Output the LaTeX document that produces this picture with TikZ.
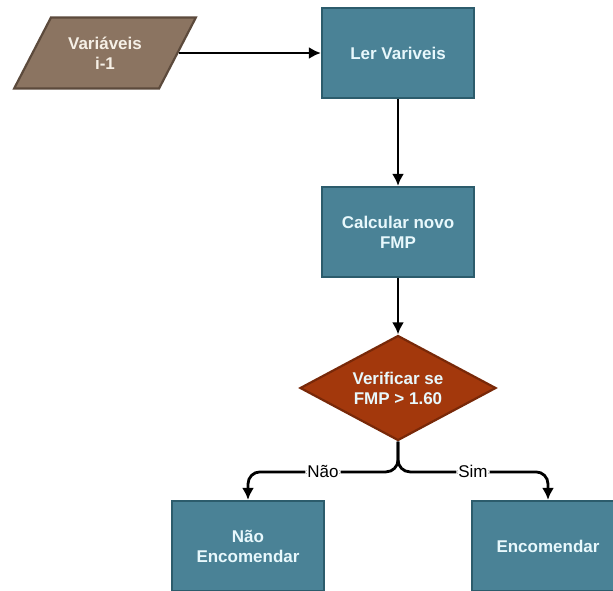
\documentclass[tikz,border=0pt]{standalone}
\usepackage{fontspec}
\setmainfont{Liberation Sans}
\usetikzlibrary{shapes.geometric,arrows.meta}
\definecolor{boxfill}{RGB}{74,130,150}
\definecolor{boxline}{RGB}{44,92,108}
\definecolor{boxtext}{RGB}{232,248,252}
\definecolor{iofill}{RGB}{139,116,97}
\definecolor{ioline}{RGB}{92,74,60}
\definecolor{iotext}{RGB}{246,240,230}
\definecolor{decfill}{RGB}{163,56,12}
\definecolor{decline}{RGB}{120,40,8}
\tikzset{
  procbox/.style={rectangle, draw=boxline, fill=boxfill, line width=2.2pt,
    minimum width=152pt, minimum height=90pt, text=boxtext, align=center,
    font=\bfseries\fontsize{17}{20}\selectfont},
  iobox/.style={trapezium, trapezium left angle=55, trapezium right angle=125,
    trapezium stretches=true, draw=ioline, fill=iofill, line width=2.2pt,
    minimum width=182pt, minimum height=71pt, text=iotext, align=center,
    font=\bfseries\fontsize{17}{20}\selectfont},
  decbox/.style={diamond, aspect=2, inner sep=1pt, draw=decline, fill=decfill,
    line width=2.2pt, minimum width=196pt, minimum height=105pt, text=boxtext,
    align=center, font=\bfseries\fontsize{17}{20}\selectfont},
  conn/.style={line width=2.8pt, draw=black, -{Latex[length=12pt,width=12pt]}},
  branchlabel/.style={fill=white, inner sep=2pt, font=\fontsize{17}{20}\selectfont}
}
\begin{document}
\begin{tikzpicture}[x=1pt, y=-1pt]
  \useasboundingbox (0,0) rectangle (613,590);
  \begin{scope}
    \clip (0,0) rectangle (613,590);
    \node[iobox] (var) at (105,53) {Variáveis\\i-1};
    \node[procbox] (ler) at (398,53) {Ler Variveis};
    \node[procbox] (calc) at (398,232) {Calcular novo\\FMP};
    \node[decbox] (dec) at (398,388) {Verificar se\\FMP > 1.60};
    \node[procbox] (nao) at (248,546) {Não\\Encomendar};
    \node[procbox] (enc) at (548,546) {Encomendar};

    \draw[conn] (var.east) -- (var.east -| ler.west);
    \draw[conn] (ler.south) -- (calc.north);
    \draw[conn] (calc.south) -- (dec.north);
    \draw[conn, rounded corners=12pt] (dec.south) |- ([yshift=28pt]nao.north)
      node[branchlabel, pos=0.75] {Não} -- (nao.north);
    \draw[conn, rounded corners=12pt] (dec.south) |- ([yshift=28pt]enc.north)
      node[branchlabel, pos=0.75] {Sim} -- (enc.north);
  \end{scope}
\end{tikzpicture}
\end{document}
